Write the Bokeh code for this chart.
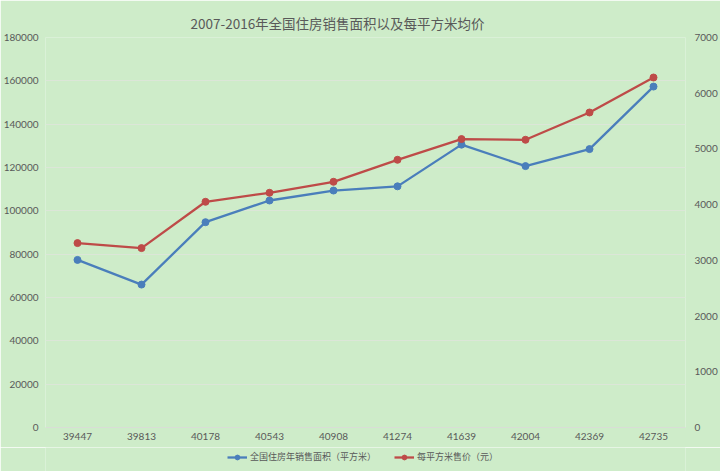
from bokeh.plotting import figure
from bokeh.models import (Range1d, LinearAxis, FixedTicker, Legend, LegendItem,
                          FactorRange, NumeralTickFormatter, ColumnDataSource)
from bokeh.layouts import column
from bokeh.embed import file_html
from bokeh.resources import INLINE

# ---- data ----
categories = ["39447", "39813", "40178", "40543", "40908",
              "41274", "41639", "42004", "42369", "42735"]
area = [77355, 65969, 94755, 104765, 109367, 111304, 130551, 120649, 128495, 157349]
price = [3310, 3220, 4051, 4213, 4410, 4805, 5177, 5164, 5654, 6282]
left_ticks = [0, 20000, 40000, 60000, 80000, 100000, 120000, 140000, 160000, 180000]
right_ticks = [0, 1000, 2000, 3000, 4000, 5000, 6000, 7000]
title_text = "2007-2016年全国住房销售面积以及每平方米均价"
label_area = "全国住房年销售面积（平方米）"
label_price = "每平方米售价（元）"

BG = "#CEECC9"
BLUE = "#4A7EBB"
RED = "#BE4B48"
TXT = "#595959"
LATIN = "Lato"
CJK = "Noto Sans CJK SC"

src = ColumnDataSource(data=dict(cat=categories, area=area, price=price))

p = figure(width=720, height=447, output_backend="svg", toolbar_location=None,
           x_range=FactorRange(*categories), y_range=Range1d(0, 180000),
           min_border_left=42, min_border_right=32, min_border_top=37,
           min_border_bottom=20)
p.background_fill_color = BG
p.border_fill_color = BG
p.outline_line_color = None

p.title.text = title_text
p.title.text_font = CJK
p.title.text_font_size = "13.5px"
p.title.text_font_style = "normal"
p.title.text_color = TXT
p.title.align = "left"
p.title.offset = 145

p.extra_y_ranges = {"price": Range1d(0, 7000)}

# lines
p.line("cat", "area", source=src, line_color=BLUE, line_width=2.3)
p.scatter("cat", "area", source=src, size=7, fill_color=BLUE, line_color=BLUE)
p.line("cat", "price", source=src, line_color=RED, line_width=2.3, y_range_name="price")
p.scatter("cat", "price", source=src, size=7, fill_color=RED, line_color=RED,
          y_range_name="price")

# axes
for ax in [p.xaxis[0], p.yaxis[0]]:
    ax.major_tick_line_color = None
    ax.minor_tick_line_color = None
    ax.major_tick_out = 0
    ax.major_tick_in = 0
    ax.minor_tick_out = 0
    ax.major_label_text_font = LATIN
    ax.major_label_text_font_size = "10px"
    ax.major_label_text_color = TXT
p.yaxis[0].axis_line_color = None
p.yaxis[0].ticker = FixedTicker(ticks=left_ticks)
p.yaxis[0].formatter = NumeralTickFormatter(format="0")
p.yaxis[0].major_label_standoff = 7
p.xaxis[0].axis_line_color = "#D9DDD6"
p.xaxis[0].major_label_standoff = 5

ax2 = LinearAxis(y_range_name="price", ticker=FixedTicker(ticks=right_ticks))
ax2.formatter = NumeralTickFormatter(format="0")
ax2.axis_line_color = None
ax2.major_tick_line_color = None
ax2.minor_tick_line_color = None
ax2.major_tick_out = 0
ax2.major_tick_in = 0
ax2.minor_tick_out = 0
ax2.major_label_text_font = LATIN
ax2.major_label_text_font_size = "10px"
ax2.major_label_text_color = TXT
ax2.major_label_standoff = 9
p.add_layout(ax2, "right")

p.xgrid.grid_line_color = None
p.ygrid.grid_line_color = "#DCE6D8"
p.ygrid.grid_line_width = 1

# legend strip below the chart (series drawn out of view; only the legend shows)
q = figure(width=720, height=24, output_backend="svg", toolbar_location=None,
           x_range=FactorRange(*categories), y_range=Range1d(-2, -1),
           x_axis_type=None, y_axis_type=None,
           min_border_left=0, min_border_right=0, min_border_top=0,
           min_border_bottom=0)
q.background_fill_color = BG
q.border_fill_color = BG
q.outline_line_color = None
q.grid.visible = False
l1 = q.line("cat", "area", source=src, line_color=BLUE, line_width=2.3)
m1 = q.scatter("cat", "area", source=src, size=7, fill_color=BLUE, line_color=BLUE)
l2 = q.line("cat", "price", source=src, line_color=RED, line_width=2.3)
m2 = q.scatter("cat", "price", source=src, size=7, fill_color=RED, line_color=RED)

legend = Legend(items=[LegendItem(label=label_area, renderers=[l1, m1]),
                       LegendItem(label=label_price, renderers=[l2, m2])],
                orientation="horizontal", location=(182, 8))
legend.background_fill_alpha = 0
legend.border_line_color = None
legend.label_text_font = CJK
legend.label_text_font_size = "9px"
legend.label_text_color = TXT
legend.glyph_width = 20
legend.glyph_height = 12
legend.label_standoff = 3
legend.spacing = 18
legend.padding = 2
legend.margin = 0
q.add_layout(legend, "center")

layout = column(p, q, spacing=0)
open("out.html", "w").write(file_html(layout, INLINE))
